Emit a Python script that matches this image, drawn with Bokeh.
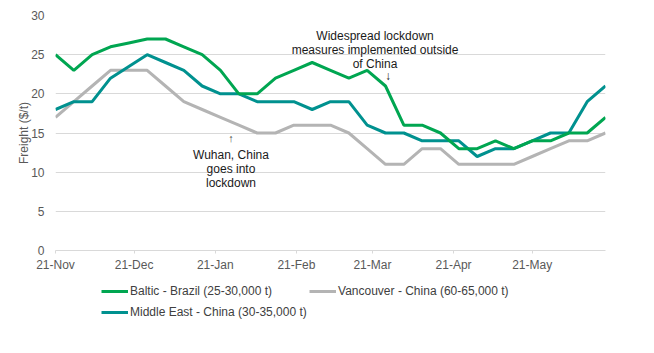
import pandas as pd
from bokeh.plotting import figure
from bokeh.layouts import column
from bokeh.models import (Range1d, FixedTicker, DatetimeTickFormatter, Legend, LegendItem,
                          ColumnDataSource)
from bokeh.core.properties import value
from bokeh.embed import file_html
from bokeh.resources import INLINE

# ---------------- data ----------------
start_date = "2019-11-21"
n_weeks = 31
dates = pd.date_range(start_date, periods=n_weeks, freq="7D")

baltic_brazil = [25, 23, 25, 26, 26.5, 27, 27, 26, 25, 23, 20, 20, 22, 23, 24, 23, 22, 23, 21,
                 16, 16, 15, 13, 13, 14, 13, 14, 14, 15, 15, 17]
vancouver_china = [17, 19, 21, 23, 23, 23, 21, 19, 18, 17, 16, 15, 15, 16, 16, 16, 15, 13, 11,
                   11, 13, 13, 11, 11, 11, 11, 12, 13, 14, 14, 15]
middle_east_china = [18, 19, 19, 22, 23.5, 25, 24, 23, 21, 20, 20, 19, 19, 19, 18, 19, 19, 16, 15,
                     15, 14, 14, 14, 12, 13, 13, 14, 15, 15, 19, 21]

series_names = ["Baltic - Brazil (25-30,000 t)",
                "Vancouver - China (60-65,000 t)",
                "Middle East - China (30-35,000 t)"]

tick_dates = pd.to_datetime(["2019-11-21", "2019-12-21", "2020-01-21", "2020-02-21",
                             "2020-03-21", "2020-04-21", "2020-05-21"])
y_ticks = [0, 5, 10, 15, 20, 25, 30]

note1_lines = ["Widespread lockdown", "measures implemented outside", "of China"]
note1_x = pd.Timestamp("2020-03-22")
note1_y = [27.35, 25.59, 23.83]
note1_arrow = (pd.Timestamp("2020-03-27"), 22.3)

note2_lines = ["Wuhan, China", "goes into", "lockdown"]
note2_x = pd.Timestamp("2020-01-27")
note2_y = [12.13, 10.40, 8.68]
note2_arrow = (pd.Timestamp("2020-01-27"), 14.4)

# ---------------- styles ----------------
FONT = "Liberation Sans"
C_BALTIC = "#00A651"
C_VANC = "#B4B4B4"
C_ME = "#00918F"
GRID = "#D9D9D9"
AXIS_TXT = "#595959"

p = figure(width=654, height=280, output_backend="svg", toolbar_location=None,
           x_axis_type="datetime",
           x_range=Range1d(dates[0], dates[-1]), y_range=Range1d(0, 30),
           min_border_left=55, min_border_right=49, min_border_top=15, min_border_bottom=30)
p.outline_line_color = None
p.background_fill_color = "white"
p.xgrid.grid_line_color = None
p.ygrid.grid_line_color = GRID
p.ygrid.grid_line_width = 1

# axes
p.yaxis.ticker = FixedTicker(ticks=y_ticks)
p.yaxis.axis_line_color = None
p.yaxis.major_tick_line_color = None
p.yaxis.minor_tick_line_color = None
p.yaxis.major_tick_in = 0
p.yaxis.major_tick_out = 0
p.yaxis.minor_tick_in = 0
p.yaxis.minor_tick_out = 0
p.yaxis.major_label_standoff = 11
p.yaxis.major_label_text_font = FONT
p.yaxis.major_label_text_font_size = "12px"
p.yaxis.major_label_text_color = AXIS_TXT
p.yaxis.axis_label = "Freight ($/t)"
p.yaxis.axis_label_text_font = FONT
p.yaxis.axis_label_text_font_size = "12px"
p.yaxis.axis_label_text_font_style = "normal"
p.yaxis.axis_label_text_color = AXIS_TXT
p.yaxis.axis_label_standoff = -3

p.xaxis.ticker = FixedTicker(ticks=[d.value / 1e6 for d in tick_dates])
fmt = "%d-%b"
p.xaxis.formatter = DatetimeTickFormatter(milliseconds=fmt, seconds=fmt, minsec=fmt, minutes=fmt,
                                          hourmin=fmt, hours=fmt, days=fmt, months=fmt, years=fmt)
p.xaxis.axis_line_color = GRID
p.xaxis.major_tick_line_color = GRID
p.xaxis.major_tick_in = 0
p.xaxis.major_tick_out = 3
p.xaxis.minor_tick_line_color = None
p.xaxis.minor_tick_in = 0
p.xaxis.minor_tick_out = 0
p.xaxis.major_label_standoff = 4
p.xaxis.major_label_text_font = FONT
p.xaxis.major_label_text_font_size = "12px"
p.xaxis.major_label_text_color = AXIS_TXT

src = ColumnDataSource(dict(x=dates, baltic=baltic_brazil, vanc=vancouver_china, me=middle_east_china))
r_v = p.line("x", "vanc", source=src, line_color=C_VANC, line_width=3)
r_m = p.line("x", "me", source=src, line_color=C_ME, line_width=3)
r_b = p.line("x", "baltic", source=src, line_color=C_BALTIC, line_width=3)

# annotations
TXT = "#1A1A1A"
p.text(x=[note1_x] * 3, y=note1_y, text=note1_lines, text_align="center", text_baseline="alphabetic",
       text_font=value(FONT), text_font_size="12px", text_color=TXT)
p.text(x=[note1_arrow[0]], y=[note1_arrow[1]], text=["\u2193"], text_align="center", text_baseline="middle",
       text_font=value(FONT), text_font_size="12px", text_color=TXT)
p.text(x=[note2_x] * 3, y=note2_y, text=note2_lines, text_align="center", text_baseline="alphabetic",
       text_font=value(FONT), text_font_size="12px", text_color=TXT)
p.text(x=[note2_arrow[0]], y=[note2_arrow[1]], text=["\u2191"], text_align="center", text_baseline="middle",
       text_font=value(FONT), text_font_size="11px", text_color="#444444")

# ---------------- legend strip (same series styles, drawn off-range) ----------------
lf = figure(width=654, height=73, output_backend="svg", toolbar_location=None,
            x_range=Range1d(0, 1), y_range=Range1d(0, 1),
            x_axis_location=None, y_axis_location=None,
            min_border_left=55, min_border_right=49, min_border_top=0, min_border_bottom=0)
lf.outline_line_color = None
lf.xgrid.grid_line_color = None
lf.ygrid.grid_line_color = None
lb = lf.line(x=[5, 6], y=[5, 6], line_color=C_BALTIC, line_width=3)
lv = lf.line(x=[5, 6], y=[5, 6], line_color=C_VANC, line_width=3)
lm = lf.line(x=[5, 6], y=[5, 6], line_color=C_ME, line_width=3)

def make_legend(items, loc):
    return Legend(items=items, location=loc, orientation="horizontal",
                  label_text_font=FONT, label_text_font_size="12px", label_text_color="#404040",
                  glyph_width=27, glyph_height=14, label_height=14, label_standoff=2,
                  padding=0, margin=0, spacing=37, border_line_color=None, background_fill_alpha=0)

lf.add_layout(make_legend([LegendItem(label=series_names[0], renderers=[lb]),
                           LegendItem(label=series_names[1], renderers=[lv])], (46, 55)))
lf.add_layout(make_legend([LegendItem(label=series_names[2], renderers=[lm])], (46, 34)))

layout = column(p, lf, spacing=0)
open("out.html", "w").write(file_html(layout, INLINE))
